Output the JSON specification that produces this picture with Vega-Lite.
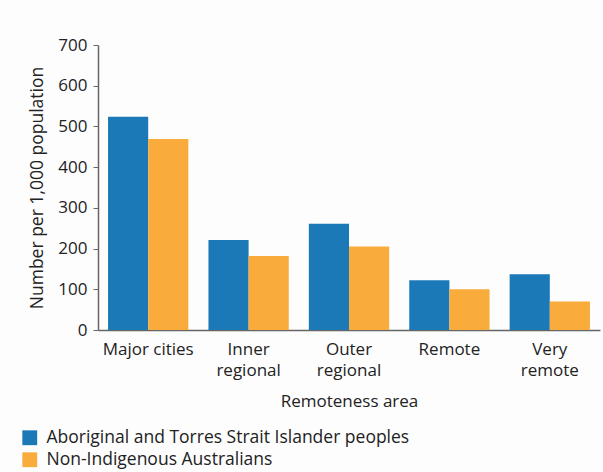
{
  "$schema": "https://vega.github.io/schema/vega-lite/v6.json",
  "autosize": "none",
  "width": 502,
  "height": 285,
  "padding": {"left": 98, "top": 45, "right": 3, "bottom": 142},
  "background": "#fdfdfd",
  "config": {
    "view": {"stroke": null},
    "font": "Open Sans",
    "axis": {"labelFont": "Open Sans", "titleFont": "Open Sans", "labelColor": "#222", "titleColor": "#222"}
  },
  "data": {
    "values": [
      {"area": "Major cities", "group": "Aboriginal and Torres Strait Islander peoples", "value": 524},
      {"area": "Major cities", "group": "Non-Indigenous Australians", "value": 469},
      {"area": "Inner regional", "group": "Aboriginal and Torres Strait Islander peoples", "value": 221},
      {"area": "Inner regional", "group": "Non-Indigenous Australians", "value": 182},
      {"area": "Outer regional", "group": "Aboriginal and Torres Strait Islander peoples", "value": 261},
      {"area": "Outer regional", "group": "Non-Indigenous Australians", "value": 205},
      {"area": "Remote", "group": "Aboriginal and Torres Strait Islander peoples", "value": 122},
      {"area": "Remote", "group": "Non-Indigenous Australians", "value": 100},
      {"area": "Very remote", "group": "Aboriginal and Torres Strait Islander peoples", "value": 137},
      {"area": "Very remote", "group": "Non-Indigenous Australians", "value": 70}
    ]
  },
  "mark": {"type": "bar"},
  "encoding": {
    "x": {
      "field": "area",
      "type": "nominal",
      "sort": null,
      "scale": {"paddingInner": 0.2, "paddingOuter": 0.1},
      "axis": {
        "title": "Remoteness area",
        "titleFontSize": 17,
        "titleFontWeight": "normal",
        "titlePadding": 15,
        "labelAngle": 0,
        "labelFontSize": 17,
        "labelLineHeight": 21,
        "labelPadding": 11,
        "ticks": false,
        "domainColor": "#666",
        "domainWidth": 1.5,
        "labelExpr": "datum.value == 'Major cities' ? datum.value : split(datum.value, ' ')"
      }
    },
    "xOffset": {"field": "group", "type": "nominal"},
    "y": {
      "field": "value",
      "type": "quantitative",
      "scale": {"domain": [0, 700]},
      "axis": {
        "title": "Number per 1,000 population",
        "titleFontSize": 17.5,
        "titleFontWeight": "normal",
        "titlePadding": 11,
        "labelFontSize": 17,
        "labelPadding": 6,
        "tickCount": 7,
        "grid": false,
        "tickSize": 5,
        "tickColor": "#666",
        "domainColor": "#666",
        "domainWidth": 1.5
      }
    },
    "color": {
      "field": "group",
      "type": "nominal",
      "scale": {"range": ["#1b79b8", "#f9ab3c"]},
      "legend": {
        "title": null,
        "orient": "none",
        "legendX": -77,
        "legendY": 384,
        "symbolType": "square",
        "symbolSize": 220,
        "symbolStrokeWidth": 0,
        "labelFontSize": 17.5,
        "labelFont": "Open Sans",
        "labelColor": "#222",
        "labelLimit": 500,
        "rowPadding": 3,
        "labelOffset": 8
      }
    }
  }
}
